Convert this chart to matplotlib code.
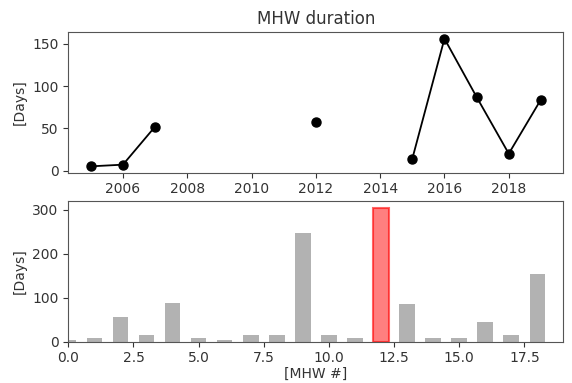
import numpy as np
import matplotlib
matplotlib.use("Agg")
import matplotlib.pyplot as plt

# Annual MHW duration (NaN = no event that year)
years = [2005, 2006, 2007, 2008, 2009, 2010, 2011, 2012, 2013, 2014,
         2015, 2016, 2017, 2018, 2019]
annual_days = [5, 7, 52, np.nan, np.nan, np.nan, np.nan, 58, np.nan, np.nan,
               14, 156, 87, 20, 84]

# Duration of each individual MHW event
event_idx = list(range(19))
event_days = [4, 8, 56, 15, 87, 8, 5, 15, 15, 247,
              15, 8, 305, 85, 8, 8, 46, 15, 154]
highlight = 12

TXT = "#333333"
plt.rcParams.update({
    "font.size": 10,
    "text.color": TXT,
    "axes.labelcolor": TXT,
    "xtick.color": TXT,
    "ytick.color": TXT,
    "axes.edgecolor": "#555555",
})

fig = plt.figure(figsize=(5.72, 3.83), dpi=100)
ax1 = fig.add_axes([0.1194, 0.549, 0.8656, 0.3667])
ax2 = fig.add_axes([0.1194, 0.1078, 0.8656, 0.3674])

# top: annual duration
ax1.plot(years, annual_days, "o-", color="black", linewidth=1.3, markersize=6.5)
ax1.set_title("MHW duration")
ax1.set_ylabel("[Days]")
ax1.set_xticks([2006, 2008, 2010, 2012, 2014, 2016, 2018])

# bottom: per-event duration
colors = ["#b2b2b2"] * len(event_idx)
bars = ax2.bar(event_idx, event_days, width=0.6, color=colors)
bars[highlight].set_facecolor((1, 0, 0, 0.5))
bars[highlight].set_edgecolor((1, 0, 0, 0.6))
bars[highlight].set_linewidth(1.5)
ax2.set_xlim(0, 19)
ax2.set_ylabel("[Days]")
ax2.set_xlabel("[MHW #]", labelpad=1)

fig.savefig("out.png", dpi=100)
